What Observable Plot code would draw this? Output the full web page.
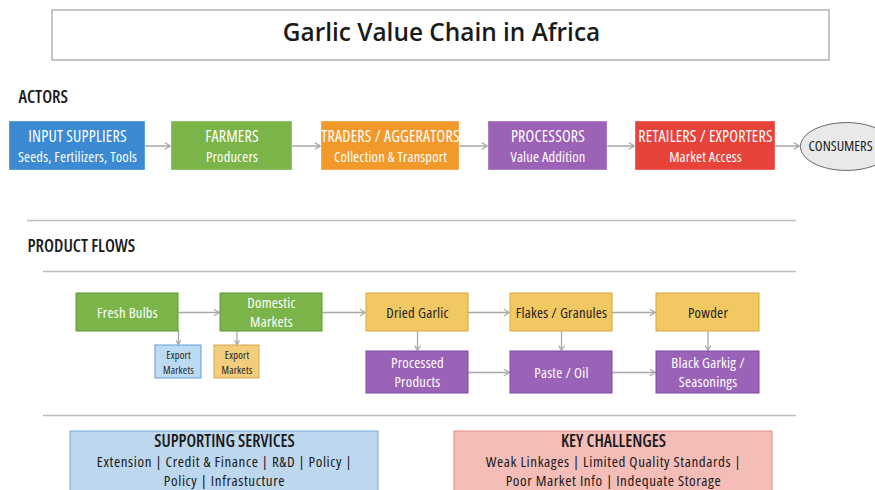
<!DOCTYPE html>
<html>
<head>
<meta charset="utf-8">
<script src="https://cdn.jsdelivr.net/npm/d3@7"></script>
<script src="https://cdn.jsdelivr.net/npm/@observablehq/plot@0.6"></script>
<style>
  html, body { margin: 0; padding: 0; background: #ffffff; }
  #chart svg { display: block; }
  #chart svg text { font-stretch: 75%; }
  #chart svg g[font-size="24.4"] text { font-stretch: 98%; }
  #chart svg g[font-size="16"] text { letter-spacing: 0.2px; }
  #chart svg g[font-size="14.5"] text { letter-spacing: 0.15px; }
  #chart svg g[font-size="14.6"] text { letter-spacing: 0.25px; }
  #chart svg g[font-size="10.5"] text { letter-spacing: 0.2px; }
  #chart svg g[font-size="15"] text { letter-spacing: 0.6px; }
</style>
</head>
<body>
<div id="chart"></div>
<script>
// ---------- data (text content) ----------
const title = "Garlic Value Chain in Africa";
const sectionHeadings = ["ACTORS", "PRODUCT FLOWS"];
const actorNames = ["INPUT SUPPLIERS", "FARMERS", "TRADERS / AGGERATORS", "PROCESSORS", "RETAILERS / EXPORTERS"];
const actorRoles = ["Seeds, Fertilizers, Tools", "Producers", "Collection & Transport", "Value Addition", "Market Access"];
const endActor = "CONSUMERS";
const productNames = ["Fresh Bulbs", "Domestic\nMarkets", "Dried Garlic", "Flakes / Granules", "Powder",
                      "Processed\nProducts", "Paste / Oil", "Black Garkig /\nSeasonings"];
const exportNames = ["Export\nMarkets", "Export\nMarkets"];
const productEdges = [["Fresh Bulbs", "Domestic\nMarkets"], ["Domestic\nMarkets", "Dried Garlic"],
                      ["Dried Garlic", "Flakes / Granules"], ["Flakes / Granules", "Powder"],
                      ["Processed\nProducts", "Paste / Oil"], ["Paste / Oil", "Black Garkig /\nSeasonings"]];
const downEdges = [[0, "export0"], [1, "export1"], [2, 5], [3, 6], [4, 7]];
const panelTitles = ["SUPPORTING SERVICES", "KEY CHALLENGES"];
const panelLines = ["Extension | Credit & Finance | R&D | Policy |\nPolicy | Infrastucture",
                    "Weak Linkages | Limited Quality Standards |\nPoor Market Info | Indequate Storage"];

// ---------- layout (diagram units) ----------
const actorX = [[9, 145], [171, 292], [321, 459], [488, 607], [635, 775]];
const actorY = [121, 170];
const consumerCenter = [846, 146];
const productX = [[76, 178], [220, 322], [366, 468], [510, 612], [656, 759], [366, 468], [510, 612], [656, 759]];
const productRowY = [[293, 331], [293, 331], [293, 331], [293, 331], [293, 331], [351, 393], [351, 393], [351, 393]];
const exportX = [[155, 201], [214, 259]];
const exportY = [345, 378];
const panelX = [[70, 378], [454, 772]];
const panelY = [431, 500];

// ---------- styles ----------
const actorFill = ["#3b8ad2", "#7bb549", "#f2992c", "#9b62b6", "#e8433b"];
const productFill = ["#7bb549", "#7bb549", "#f2c862", "#f2c862", "#f2c862", "#9b63b8", "#9b63b8", "#9b63b8"];
const productStroke = ["#5f9a34", "#5f9a34", "#d6a63c", "#d6a63c", "#d6a63c", "#7f4a9c", "#7f4a9c", "#7f4a9c"];
const productText = ["#ffffff", "#ffffff", "#222222", "#222222", "#222222", "#ffffff", "#ffffff", "#ffffff"];
const exportFill = ["#bcdaf2", "#f2cd7c"];
const exportStroke = ["#5c9fdc", "#d6a84a"];
const panelFill = ["#bdd7ee", "#f5bdb7"];
const panelStroke = ["#74aadb", "#e38e85"];
const FONT = "'Open Sans', Roboto, sans-serif";

// ---------- tables built from the arrays ----------
const actors = actorNames.map((name, i) => ({
  name, role: actorRoles[i], x1: actorX[i][0], x2: actorX[i][1], y1: actorY[0], y2: actorY[1],
  fill: actorFill[i]
}));
const products = productNames.map((name, i) => ({
  name, x1: productX[i][0], x2: productX[i][1], y1: productRowY[i][0], y2: productRowY[i][1],
  fill: productFill[i], stroke: productStroke[i], text: productText[i]
}));
const exportsT = exportNames.map((name, i) => ({
  name, id: "export" + i, x1: exportX[i][0], x2: exportX[i][1], y1: exportY[0], y2: exportY[1],
  fill: exportFill[i], stroke: exportStroke[i]
}));
const panels = panelTitles.map((t, i) => ({
  title: t, body: panelLines[i], x1: panelX[i][0], x2: panelX[i][1], y1: panelY[0], y2: panelY[1],
  fill: panelFill[i], stroke: panelStroke[i]
}));
const cx = d => (d.x1 + d.x2) / 2;
const cy = d => (d.y1 + d.y2) / 2;

// arrows derived from box geometry
const actorArrows = actors.map((a, i) => {
  const next = actors[i + 1];
  const x2 = next ? next.x1 : consumerCenter[0] - 46;
  return {x1: a.x2, y1: cy(a), x2: x2 - 1, y2: cy(a)};
});
const byName = Object.fromEntries(products.map(p => [p.name, p]));
const hArrows = productEdges.map(([a, b]) => ({
  x1: byName[a].x2, y1: cy(byName[a]), x2: byName[b].x1 - 1, y2: cy(byName[a])
}));
const vArrows = downEdges.map(([a, b]) => {
  const s = products[a];
  const t = typeof b === "string" ? exportsT.find(e => e.id === b) : products[b];
  return {x1: cx(t), y1: s.y2, x2: cx(t), y2: t.y1 - 1};
});

// ellipse symbol for the consumers node
const ellipseSymbol = {
  draw(ctx, size) {
    const rx = Math.sqrt(size / Math.PI), ry = rx * 0.52, k = 0.5523;
    ctx.moveTo(rx, 0);
    ctx.bezierCurveTo(rx, ry * k, rx * k, ry, 0, ry);
    ctx.bezierCurveTo(-rx * k, ry, -rx, ry * k, -rx, 0);
    ctx.bezierCurveTo(-rx, -ry * k, -rx * k, -ry, 0, -ry);
    ctx.bezierCurveTo(rx * k, -ry, rx, -ry * k, rx, 0);
    ctx.closePath();
  }
};

const arrowOpts = {x1: "x1", y1: "y1", x2: "x2", y2: "y2", stroke: "#a9a9a9", strokeWidth: 1.3, headLength: 7};

const chart = Plot.plot({
  width: 875,
  height: 490,
  margin: 0,
  x: {domain: [0, 875], range: [0, 875], axis: null},
  y: {domain: [0, 490], range: [0, 490], axis: null},
  style: {fontFamily: FONT, background: "#ffffff"},
  marks: [
    // title box
    Plot.rect([{x1: 52, x2: 829, y1: 10, y2: 60}], {x1: "x1", x2: "x2", y1: "y1", y2: "y2", fill: "#ffffff", stroke: "#a8a8a8", strokeWidth: 1.3}),
    Plot.text([title], {x: 441, y: 33, text: d => d, fontSize: 24.4, fontWeight: 650, fill: "#1a1a1a", fontFamily: FONT}),
    // headings
    Plot.text([sectionHeadings[0]], {x: 18, y: 97, text: d => d, textAnchor: "start", fontSize: 17.5, fontWeight: 600, fill: "#1a1a1a", fontFamily: FONT}),
    Plot.text([sectionHeadings[1]], {x: 27, y: 246, text: d => d, textAnchor: "start", fontSize: 17.5, fontWeight: 600, fill: "#1a1a1a", fontFamily: FONT}),
    // separators
    Plot.ruleY([220], {x1: 27, x2: 796, stroke: "#bdbdbd", strokeWidth: 1.5}),
    Plot.ruleY([271], {x1: 43, x2: 796, stroke: "#bdbdbd", strokeWidth: 1.5}),
    Plot.ruleY([415], {x1: 43, x2: 796, stroke: "#bdbdbd", strokeWidth: 1.5}),
    // actor arrows + boxes
    Plot.arrow(actorArrows, arrowOpts),
    Plot.rect(actors, {x1: "x1", x2: "x2", y1: "y1", y2: "y2", fill: "fill", stroke: "#ffffff", strokeOpacity: 0.35}),
    Plot.text(actors, {x: cx, y: d => cy(d) - 9.5, text: "name", fill: "#ffffff", fontSize: 16, fontFamily: FONT}),
    Plot.text(actors, {x: cx, y: d => cy(d) + 11.5, text: "role", fill: "#ffffff", fontSize: 14.5, fontFamily: FONT}),
    Plot.dot([endActor], {x: consumerCenter[0], y: consumerCenter[1], r: 46, symbol: ellipseSymbol, fill: "#e9e9e9", stroke: "#666666", strokeWidth: 1}),
    Plot.text([endActor], {x: consumerCenter[0] - 6, y: consumerCenter[1], text: d => d, fill: "#1a1a1a", fontSize: 14.4, fontFamily: FONT}),
    // product flows
    Plot.arrow(hArrows, arrowOpts),
    Plot.arrow(vArrows, {...arrowOpts, headLength: 6}),
    Plot.rect(products, {x1: "x1", x2: "x2", y1: "y1", y2: "y2", fill: "fill", stroke: "stroke", strokeWidth: 1}),
    Plot.text(products, {x: cx, y: d => cy(d) - 1, text: "name", fill: "text", fontSize: 14.6, lineHeight: 1.32, fontFamily: FONT}),
    Plot.rect(exportsT, {x1: "x1", x2: "x2", y1: "y1", y2: "y2", fill: "fill", stroke: "stroke", strokeWidth: 1}),
    Plot.text(exportsT, {x: cx, y: cy, text: "name", fill: "#222222", fontSize: 10.5, lineHeight: 1.35, fontFamily: FONT}),
    // bottom panels
    Plot.rect(panels, {x1: "x1", x2: "x2", y1: "y1", y2: "y2", fill: "fill", stroke: "stroke", strokeWidth: 1}),
    Plot.text(panels, {x: cx, y: 441.5, text: "title", fill: "#1a1a1a", fontSize: 17, fontWeight: 600, fontFamily: FONT}),
    Plot.text(panels, {x: cx, y: 469.5, text: "body", fill: "#1a1a1a", fontSize: 15, lineHeight: 1.3, fontFamily: FONT})
  ]
});
document.getElementById("chart").appendChild(chart);
</script>
</body>
</html>
